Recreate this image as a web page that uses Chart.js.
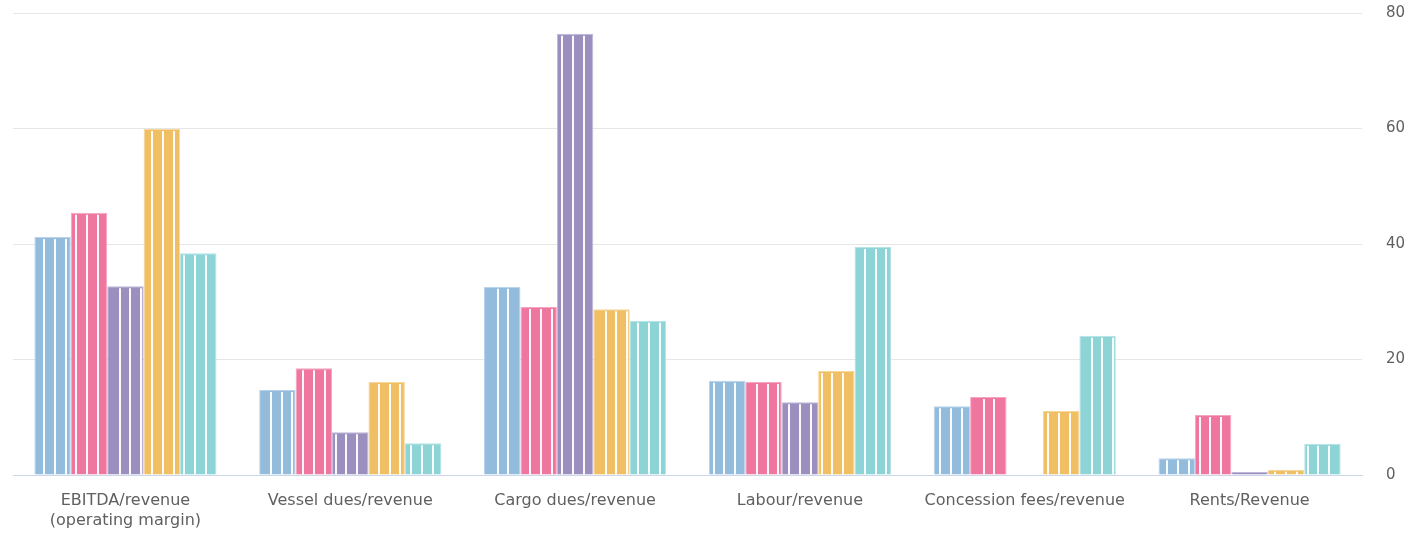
<!DOCTYPE html>
<html>
<head>
<meta charset="utf-8">
<script src="https://cdn.jsdelivr.net/npm/chart.js@4"></script>
<style>
  html, body { margin: 0; padding: 0; background: #fff; }
  #wrap { width: 1417px; height: 533px; }
</style>
</head>
<body>
<div id="wrap"><canvas id="grafico"></canvas></div>
<script>
// Categorias e valores
const categorias = [
  ['EBITDA/revenue', '(operating margin)'],
  'Vessel dues/revenue',
  'Cargo dues/revenue',
  'Labour/revenue',
  'Concession fees/revenue',
  'Rents/Revenue'
];
const serieAzul = [41.2, 14.7, 32.6, 16.3, 11.9, 2.9];
const serieRosa = [45.4, 18.5, 29.1, 16.1, 13.5, 10.4];
const serieRoxa = [32.7, 7.4, 76.4, 12.6, null, 0.5];
const serieAmarela = [59.9, 16.1, 28.7, 18.0, 11.1, 0.9];
const serieCiano = [38.4, 5.5, 26.7, 39.5, 24.1, 5.4];
const ticksY = [0, 20, 40, 60, 80];

const cores = ['#92bbdc', '#ee769f', '#9a8fbf', '#f0bf63', '#8dd4d6'];
const coresBorda = ['#b8d3ea', '#f5a6c1', '#c0b8da', '#f6d79c', '#b6e3e4'];
const series = [serieAzul, serieRosa, serieRoxa, serieAmarela, serieCiano];

// Plugin para desenhar as listras brancas verticais
const listras = {
  id: 'listras',
  afterDatasetsDraw(chart) {
    const ctx = chart.ctx;
    const periodo = 10.8;
    const deslocamento = 0.7;
    ctx.save();
    ctx.strokeStyle = 'rgba(255,255,255,0.95)';
    ctx.lineWidth = 2;
    chart.data.datasets.forEach((ds, i) => {
      const meta = chart.getDatasetMeta(i);
      meta.data.forEach(bar => {
        const p = bar.getProps(['x', 'y', 'base', 'width'], true);
        if (isNaN(p.y) || isNaN(p.x)) return;
        const esq = p.x - p.width / 2;
        const dir = p.x + p.width / 2;
        const topo = Math.min(p.y, p.base) + 2;
        const fundo = Math.max(p.y, p.base);
        if (fundo - topo < 1) return;
        let x = Math.ceil((esq + 3 - deslocamento) / periodo) * periodo + deslocamento;
        for (; x < dir - 2; x += periodo) {
          const xr = Math.round(x);
          ctx.beginPath();
          ctx.moveTo(xr, topo);
          ctx.lineTo(xr, fundo);
          ctx.stroke();
        }
      });
    });
    ctx.restore();
  }
};

const ctx = document.getElementById('grafico').getContext('2d');
new Chart(ctx, {
  type: 'bar',
  data: {
    labels: categorias,
    datasets: series.map((dados, i) => ({
      label: 'Série ' + (i + 1),
      data: dados,
      backgroundColor: cores[i],
      borderColor: coresBorda[i],
      borderWidth: 1,
      categoryPercentage: 0.81,
      barPercentage: 1
    }))
  },
  options: {
    responsive: true,
    maintainAspectRatio: false,
    animation: false,
    layout: {
      padding: { left: 13, top: 13, right: 0, bottom: 0 }
    },
    plugins: {
      legend: { display: false },
      tooltip: { enabled: false }
    },
    scales: {
      x: {
        grid: { display: false, drawTicks: false },
        border: { display: true, color: '#ccd6eb', width: 1 },
        ticks: {
          color: '#606060',
          font: { family: 'DejaVu Sans', size: 16, lineHeight: 1.3 },
          padding: 15,
          maxRotation: 0,
          autoSkip: false
        },
        afterFit: scale => {
          scale.height = 58;
          scale.paddingLeft = 0;
          scale.paddingRight = 0;
        }
      },
      y: {
        position: 'right',
        min: 0,
        max: 80,
        afterBuildTicks: scale => {
          scale.ticks = ticksY.map(v => ({ value: v }));
        },
        grid: { color: '#e6e6e6', drawTicks: false },
        border: { display: false },
        ticks: {
          color: '#606060',
          font: { family: 'DejaVu Sans', size: 15 },
          padding: 24
        },
        afterFit: scale => {
          scale.width = 55;
          scale.paddingTop = 0;
          scale.paddingBottom = 0;
        }
      }
    }
  },
  plugins: [listras]
});
</script>
</body>
</html>
